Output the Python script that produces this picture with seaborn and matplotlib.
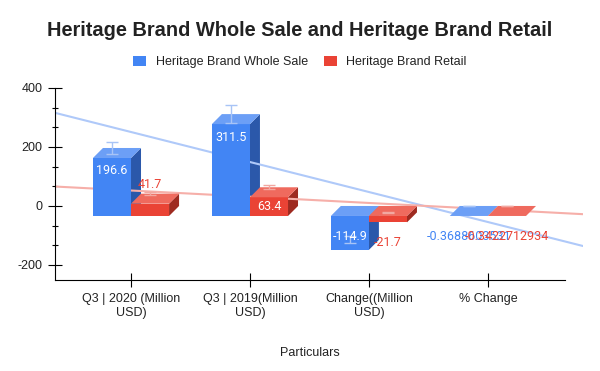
#!/usr/bin/env python3
"""
Heritage Brand wholesale vs retail, drawn as a pseudo-3D column chart
(front face from seaborn, top and side faces added as polygons).
"""

import numpy as np
import pandas as pd
import matplotlib
matplotlib.use("Agg")
import matplotlib.pyplot as plt
import seaborn as sns
from matplotlib.patches import Polygon
from matplotlib.ticker import MultipleLocator, AutoMinorLocator

# data
categories = [
    "Q3 | 2020 (Million\nUSD)",
    "Q3 | 2019(Million\nUSD)",
    "Change((Million\nUSD)",
    "% Change",
]
series = ["Heritage Brand Whole Sale", "Heritage Brand Retail"]
wholesale = [196.6, 311.5, -114.9, -0.3688603531]
retail = [41.7, 63.4, -21.7, -0.3422712934]

# colours per series: front, top, side, trendline, error bar
front_cols = ["#4285F4", "#EA4335"]
top_cols = ["#6C9FF6", "#EF6A5E"]
side_cols = ["#2B58AA", "#9E2A20"]
trend_cols = ["#AFC9F9", "#F6AFA9"]
err_cols = ["#A8C4F6", "#F2A8A1"]

sns.set_style("white")
plt.rcParams['font.family'] = ['Liberation Sans', 'DejaVu Sans']
plt.rcParams['axes.unicode_minus'] = False

df = pd.DataFrame({
    "Particulars": categories * 2,
    "Series": [series[0]] * len(categories) + [series[1]] * len(categories),
    "Value": wholesale + retail,
})

fig = plt.figure(figsize=(6, 3.71), dpi=100)
ax = fig.add_axes([55 / 600, 91 / 371, 528 / 600, 192 / 371])

sns.barplot(data=df, x="Particulars", y="Value", hue="Series", palette=front_cols,
            width=0.64, errorbar=None, saturation=1, linewidth=0, ax=ax)

XLIM = (-0.639, 3.80)
YLIM = (-251, 400)
ax.set_xlim(*XLIM)
ax.set_ylim(*YLIM)

# 3D depth offset: 10 px right / 10 px up, in data units
dx = 10 * (XLIM[1] - XLIM[0]) / ax.bbox.width
dy = 10 * (YLIM[1] - YLIM[0]) / ax.bbox.height
px_per_unit = ax.bbox.height / (YLIM[1] - YLIM[0])

bar_containers = list(ax.containers)[:2]
for k, container in enumerate(bar_containers):
    vals = [wholesale, retail][k]
    centers = []
    for bar, v in zip(container, vals):
        x0, w = bar.get_x(), bar.get_width()
        top, bot = max(v, 0), min(v, 0)
        bar.set_y(bot - dy)
        bar.set_height(top - bot)
        bar.set_zorder(3 + 0.2 * k)
        ax.add_patch(Polygon([(x0, top - dy), (x0 + w, top - dy),
                              (x0 + w + dx, top), (x0 + dx, top)],
                             closed=True, facecolor=top_cols[k], edgecolor="none",
                             zorder=3 + 0.2 * k))
        ax.add_patch(Polygon([(x0 + w, bot - dy), (x0 + w, top - dy),
                              (x0 + w + dx, top), (x0 + w + dx, bot)],
                             closed=True, facecolor=side_cols[k], edgecolor="none",
                             zorder=1.5 + 0.1 * k))
        centers.append(x0 + w / 2)

    # 10% error bars
    ax.errorbar(centers, vals, yerr=0.1 * np.abs(vals), fmt="none",
                ecolor=err_cols[k], elinewidth=1, capsize=4.3, capthick=1, zorder=4)

    # data labels: inside if the bar is tall enough, outside otherwise
    for cx, v in zip(centers, vals):
        h_px = abs(v) * px_per_unit
        if h_px >= 16:
            col = "white"
            off = min(13, h_px / 2)
            off = -off if v >= 0 else off
        else:
            col = front_cols[k]
            off = 19 if v >= 0 else -20
        ref = (max(v, 0) if v >= 0 else min(v, 0)) - dy
        ax.annotate(f"{v:.10g}", (cx, ref), xytext=(0, off), textcoords="offset pixels",
                    ha="center", va="center", fontsize=9, family="Roboto",
                    color=col, zorder=6)

# linear trendlines across the whole plot width
for k, vals in enumerate([wholesale, retail]):
    sns.regplot(x=np.arange(len(categories)), y=np.array(vals), scatter=False, ci=None,
                truncate=False, ax=ax,
                line_kws=dict(color=trend_cols[k], lw=1.5, zorder=2))
ax.set_xlim(*XLIM)
ax.set_ylim(*YLIM)

# axes styling
for s in ["top", "right"]:
    ax.spines[s].set_visible(False)
for s in ["left", "bottom"]:
    ax.spines[s].set_color("black")
    ax.spines[s].set_linewidth(0.8)
ax.spines["bottom"].set_bounds(XLIM[0], 3.647)

ax.set_xticks(range(len(categories)))
ax.set_xticklabels(categories)
ax.yaxis.set_major_locator(MultipleLocator(200))
ax.yaxis.set_minor_locator(AutoMinorLocator(3))
ax.tick_params(axis="x", which="major", bottom=True, direction="inout", length=9.4,
               width=0.8, color="black", labelcolor="#222222", labelsize=9, pad=5)
ax.tick_params(axis="y", which="major", left=True, direction="inout", length=9.4,
               width=0.8, color="black", labelcolor="#222222", labelsize=9, pad=4.3)
ax.tick_params(axis="y", which="minor", left=True, direction="inout", length=4.3,
               width=0.8, color="black")
ax.set_xlabel("")
ax.set_ylabel("")

fig.text(310 / 600, 1 - 352.7 / 371, "Particulars", ha="center", va="center",
         fontsize=9, color="#222222")
fig.text(0.5, 1 - 31 / 371, "Heritage Brand Whole Sale and Heritage Brand Retail",
         ha="center", va="center", fontsize=14.4, fontweight="bold", color="#222222")

sns.move_legend(ax, "center", bbox_to_anchor=(0.5, 1 - 62 / 371),
                bbox_transform=fig.transFigure, ncol=2, title=None, frameon=False,
                fontsize=9, handlelength=1.0, handleheight=0.85, handletextpad=0.8,
                columnspacing=1.3)
for t in ax.get_legend().get_texts():
    t.set_color("#222222")

fig.savefig("out.png", dpi=100)
plt.close(fig)
